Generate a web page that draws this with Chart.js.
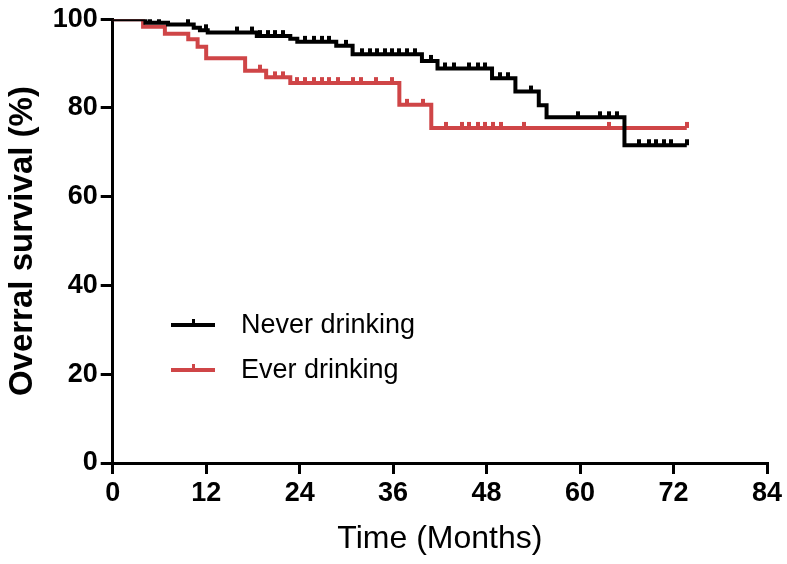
<!DOCTYPE html>
<html>
<head>
<meta charset="utf-8">
<script src="https://cdn.jsdelivr.net/npm/chart.js@4"></script>
<style>
  html, body { margin: 0; padding: 0; background: #fff; }
  #wrap { width: 787px; height: 564px; }
</style>
</head>
<body>
<div id="wrap"><canvas id="km" width="787" height="564"></canvas></div>
<script>
// Kaplan-Meier overall survival, never vs ever drinking

const xTicks = [0, 12, 24, 36, 48, 60, 72, 84];
const yTicks = [0, 20, 40, 60, 80, 100];

// event times (months) and survival after each step (%)
const neverTimes = [0, 4.2, 7.1, 10.4, 11.2, 12.2, 18.5, 22.8, 23.7, 28.7, 30.8, 39.7, 41.7, 48.7, 51.7, 54.7, 55.7, 65.7, 73.7];
const neverSurv  = [100, 99.2, 98.8, 98.1, 97.5, 97.0, 96.2, 95.6, 94.9, 94.0, 92.1, 90.6, 88.9, 86.7, 83.7, 80.6, 77.9, 71.6, 71.6];
const neverCensor = [4.8, 6.0, 9.7, 12.0, 15.9, 17.9, 18.9, 19.9, 20.9, 21.9, 24.7, 25.8, 26.9, 27.8, 29.9,
  32.0, 33.0, 33.9, 34.9, 35.9, 36.8, 37.8, 38.8, 40.8, 42.7, 43.8, 45.8, 46.9, 47.8, 49.7, 50.8, 53.7,
  59.8, 62.6, 63.7, 64.7, 67.6, 68.8, 69.8, 70.8, 71.7, 73.7];

const everTimes = [0, 3.9, 6.7, 9.7, 10.9, 12.0, 17.0, 19.7, 22.8, 36.8, 40.9, 73.7];
const everSurv  = [100, 98.3, 96.7, 95.5, 93.8, 91.2, 88.4, 86.9, 85.6, 80.7, 75.5, 75.5];
const everCensor = [18.9, 20.9, 21.9, 23.7, 24.7, 25.8, 26.9, 27.8, 28.9, 30.8, 31.9, 33.8, 35.8, 37.8, 39.8,
  42.8, 44.8, 45.8, 46.9, 47.8, 48.8, 49.8, 52.8, 63.7, 73.7];

const seriesNames = ['Never drinking', 'Ever drinking'];
const BLACK = '#000000';
const RED = '#cf4547';
const FONT = '"Liberation Sans", Arial, sans-serif';

// survival level at time t from the step curve
function levelAt(times, surv, t) {
  let v = surv[0];
  for (let i = 0; i < times.length; i++) {
    if (times[i] <= t) v = surv[i];
  }
  return v;
}

// small vertical tick sitting on top of the line
function censorMark(color) {
  const c = document.createElement('canvas');
  c.width = 4; c.height = 14;
  const g = c.getContext('2d');
  g.fillStyle = color;
  g.fillRect(0, 1, 4, 6);
  return c;
}

function curve(times, surv) {
  return times.map((t, i) => ({ x: t, y: surv[i] }));
}
function censors(list, times, surv) {
  return list.map(t => ({ x: t, y: levelAt(times, surv, t) }));
}

const legendPlugin = {
  id: 'kmLegend',
  afterDraw(chart) {
    const ctx = chart.ctx;
    const rows = [
      { name: seriesNames[0], color: BLACK, y: 325 },
      { name: seriesNames[1], color: RED, y: 370 }
    ];
    ctx.save();
    rows.forEach(r => {
      ctx.strokeStyle = r.color;
      ctx.lineWidth = 4;
      ctx.beginPath();
      ctx.moveTo(171, r.y);
      ctx.lineTo(215, r.y);
      ctx.stroke();
      ctx.fillStyle = r.color;
      ctx.fillRect(192, r.y - 6, 3, 6);
      ctx.fillStyle = '#000';
      ctx.font = '27px ' + FONT;
      ctx.textBaseline = 'middle';
      ctx.fillText(r.name, 241, r.y + 1);
    });
    ctx.restore();
  }
};

new Chart(document.getElementById('km'), {
  type: 'scatter',
  data: {
    datasets: [
      {
        label: seriesNames[0] + ' censored',
        data: censors(neverCensor, neverTimes, neverSurv),
        pointStyle: censorMark(BLACK),
        pointRadius: 4,
        showLine: false
      },
      {
        label: seriesNames[0],
        data: curve(neverTimes, neverSurv),
        showLine: true,
        stepped: true,
        borderColor: BLACK,
        borderWidth: 4,
        pointRadius: 0
      },
      {
        label: seriesNames[1] + ' censored',
        data: censors(everCensor, everTimes, everSurv),
        pointStyle: censorMark(RED),
        pointRadius: 4,
        showLine: false
      },
      {
        label: seriesNames[1],
        data: curve(everTimes, everSurv),
        showLine: true,
        stepped: true,
        borderColor: RED,
        borderWidth: 4,
        pointRadius: 0
      }
    ]
  },
  options: {
    responsive: false,
    animation: false,
    layout: { padding: { left: 0, top: 16, right: 20, bottom: 0 } },
    plugins: { legend: { display: false }, tooltip: { enabled: false } },
    scales: {
      x: {
        type: 'linear',
        min: 0, max: 84,
        afterBuildTicks: s => { s.ticks = xTicks.map(v => ({ value: v })); },
        afterFit: s => { s.height = 101; },
        grid: { drawOnChartArea: false, color: BLACK, lineWidth: 3, tickLength: 11 },
        border: { color: BLACK, width: 3 },
        ticks: { color: BLACK, padding: 3, font: { family: FONT, size: 27, weight: 'bold' } },
        title: { display: true, text: 'Time (Months)', color: BLACK, padding: { top: 0, bottom: 6 },
          font: { family: FONT, size: 32 } }
      },
      y: {
        type: 'linear',
        min: 0, max: 100,
        afterBuildTicks: s => { s.ticks = yTicks.map(v => ({ value: v })); },
        afterFit: s => { s.width = 112.7; },
        grid: { drawOnChartArea: false, color: BLACK, lineWidth: 3, tickLength: 12 },
        border: { color: BLACK, width: 3 },
        ticks: { color: BLACK, padding: 3, font: { family: FONT, size: 27, weight: 'bold' } },
        title: { display: true, text: 'Overral survival (%)', color: BLACK, padding: { top: 3, bottom: 0 },
          font: { family: FONT, size: 33, weight: 'bold' } }
      }
    }
  },
  plugins: [legendPlugin]
});
</script>
</body>
</html>
